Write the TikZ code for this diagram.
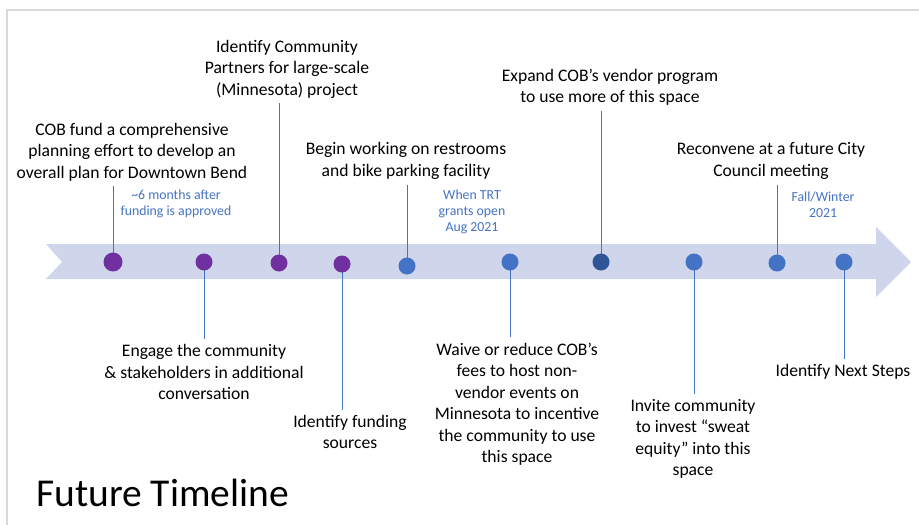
\documentclass[tikz,border=0pt]{standalone}
\usepackage{fontspec}
\setmainfont{Carlito}
\usepackage{xcolor}

\definecolor{band}{HTML}{CFD5EA}
\definecolor{plum}{HTML}{7030A0}
\definecolor{steel}{HTML}{4472C4}
\definecolor{navy}{HTML}{2F5597}
\definecolor{rim}{HTML}{D9D9D9}

\pgfdeclarelayer{bg}
\pgfsetlayers{bg,main}

\tikzset{
  dot/.style={circle, fill=#1, minimum size=17pt, inner sep=0pt},
  txt/.style={align=center, inner sep=5pt, font=\fontsize{17.6}{21.5}\selectfont},
  when/.style={align=center, inner sep=0pt, text=steel, font=\fontsize{13.8}{16.2}\selectfont},
  stem/.style={steel, line width=0.9pt},
}

\begin{document}
\begin{tikzpicture}[x=1pt,y=-1pt]
\useasboundingbox (0,0) rectangle (919,525);

\draw [rim, line width=1.5pt] (919,10) -- (7,10) -- (7,525);

\begin{pgfonlayer}{bg}
\fill [band] (46,244) -- (876,244) -- (876,227) -- (911,262) -- (876,297)
  -- (876,279) -- (46,279) -- (62,262) -- cycle;
\end{pgfonlayer}

% points on the line
\node [dot=plum, minimum size=19pt] (p1) at (113,262) {};
\node [dot=plum] (p2) at (204,262) {};
\node [dot=plum] (p3) at (279,263) {};
\node [dot=plum] (p4) at (342,264) {};
\node [dot=steel] (p5) at (407,266) {};
\node [dot=steel] (p6) at (510,262) {};
\node [dot=navy] (p7) at (601,262) {};
\node [dot=steel] (p8) at (694,262) {};
\node [dot=steel] (p9) at (777,263) {};
\node [dot=steel] (p10) at (844,262) {};

% steps above the line
\node [txt] (t1) at (132,152) {COB fund a comprehensive\\planning effort to develop an\\overall plan for Downtown Bend};
\node [txt] (t3) at (287,69) {Identify Community\\Partners for large-scale\\(Minnesota) project};
\node [txt] (t5) at (406,161) {Begin working on restrooms\\and bike parking facility};
\node [txt] (t7) at (610,87) {Expand COB’s vendor program\\to use more of this space};
\node [txt] (t9) at (771,161) {Reconvene at a future City\\Council meeting};

% steps below the line
\node [txt] (t2) at (204,372) {Engage the community\\\& stakeholders in additional\\conversation};
\node [txt] (t4) at (350,432) {Identify funding\\sources};
\node [txt] (t6) at (517,404) {Waive or reduce COB’s\\fees to host non-\\vendor events on\\Minnesota to incentive\\the community to use\\this space};
\node [txt] (t8) at (693,439) {Invite community\\to invest “sweat\\equity” into this\\space};
\node [txt] (t10) at (843,372) {Identify Next Steps};

% dates
\node [when] (w1) at (176,204) {\textasciitilde6 months after\\funding is approved};
\node [when] (w5) at (472,212) {When TRT\\grants open\\Aug 2021};
\node [when] (w9) at (823,205) {Fall/Winter\\2021};

\begin{pgfonlayer}{bg}
\draw [stem] (p1.center) -- (p1.center |- t1.south);
\draw [stem] (p3.center) -- (p3.center |- t3.south);
\draw [stem] (p5.center) -- (p5.center |- t5.south);
\draw [stem] (p7.center) -- (p7.center |- t7.south);
\draw [stem] (p9.center) -- (p9.center |- t9.south);
\draw [stem] (p2.center) -- (p2.center |- t2.north);
\draw [stem] (p4.center) -- (p4.center |- t4.north);
\draw [stem] (p6.center) -- (p6.center |- t6.north);
\draw [stem] (p8.center) -- (p8.center |- t8.north);
\draw [stem] (p10.center) -- (p10.center |- t10.north);
\end{pgfonlayer}

\node [anchor=base west, inner sep=0pt, font=\fontsize{39.5}{46}\selectfont] (title) at (36,506) {Future Timeline};
\end{tikzpicture}
\end{document}
